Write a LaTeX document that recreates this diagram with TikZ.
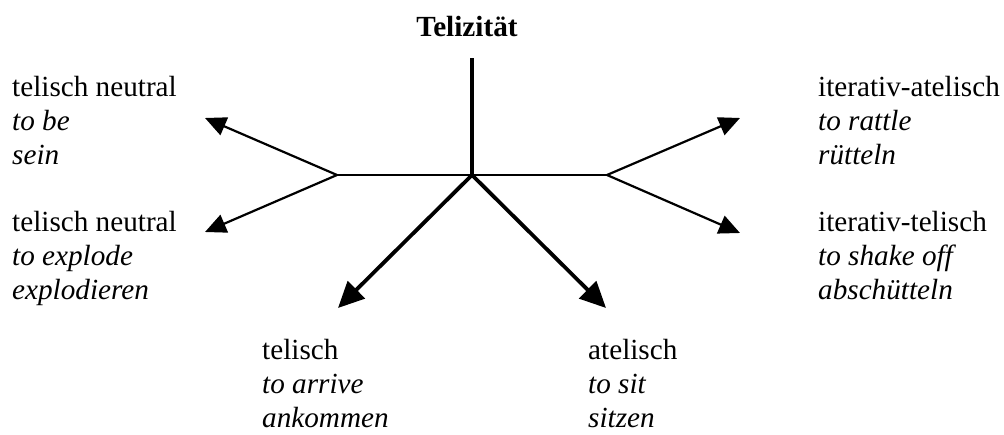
\documentclass[tikz,border=0pt]{standalone}
\usepackage{fontspec}
\setmainfont{Liberation Serif}
\usetikzlibrary{arrows.meta}
\begin{document}
\begin{tikzpicture}[x=1pt,y=-1pt,
  lbl/.style={anchor=base west,inner sep=0pt,align=left,font=\fontsize{29.2}{34}\selectfont},
  thinline/.style={line width=2.2pt},
  thickline/.style={line width=3.8pt},
  thinarrow/.style={thinline,-{Triangle[length=21pt,width=19pt]}},
  thickarrow/.style={thickline,-{Triangle[length=26pt,width=24pt]}},
  ]
\useasboundingbox (0,0) rectangle (1004,435);
\fill[white] (0,0) rectangle (1004,435);
% junctions and tips
\coordinate (c) at (472,175);
\coordinate (top) at (472,60);
\coordinate (fl) at (337,175);
\coordinate (fr) at (607,175);
\coordinate (tl1) at (205,118);
\coordinate (tl2) at (205,232);
\coordinate (tr1) at (740,118);
\coordinate (tr2) at (740,233);
\coordinate (tb1) at (338,308);
\coordinate (tb2) at (606,308);
% title
\node[anchor=base,inner sep=0pt,font=\fontsize{29.2}{34}\selectfont\bfseries] (title) at (467,37) {Telizität};
% labels (anchor = baseline of the last line)
\node[lbl] (l1) at (12,165) {telisch neutral\\\textit{to be}\\\textit{sein}};
\node[lbl] (l2) at (12,300) {telisch neutral\\\textit{to explode}\\\textit{explodieren}};
\node[lbl] (r1) at (818,165) {iterativ-atelisch\\\textit{to rattle}\\\textit{rütteln}};
\node[lbl] (r2) at (818,300) {iterativ-telisch\\\textit{to shake off}\\\textit{abschütteln}};
\node[lbl] (b1) at (262,428) {telisch\\\textit{to arrive}\\\textit{ankommen}};
\node[lbl] (b2) at (588,428) {atelisch\\\textit{to sit}\\\textit{sitzen}};
% lines
\draw[thinline] (fl) -- (fr);
\draw[thickline,line cap=rect] (top) -- (c);
\draw[thinarrow] (fl) -- (tl1);
\draw[thinarrow] (fl) -- (tl2);
\draw[thinarrow] (fr) -- (tr1);
\draw[thinarrow] (fr) -- (tr2);
\draw[thickarrow] (c) -- (tb1);
\draw[thickarrow] (c) -- (tb2);
\end{tikzpicture}
\end{document}
